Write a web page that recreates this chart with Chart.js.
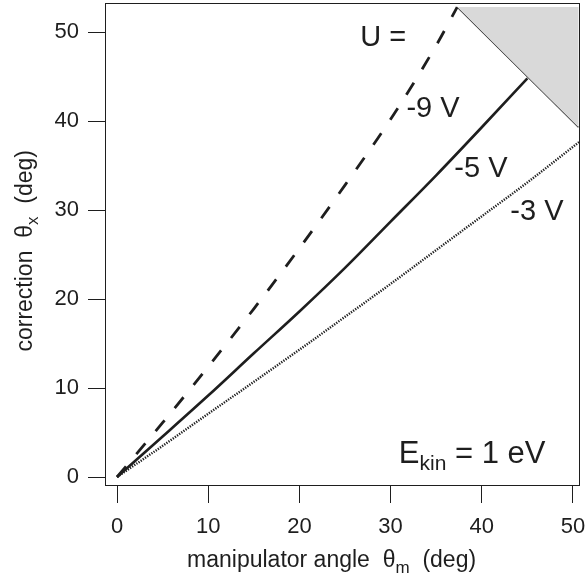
<!DOCTYPE html>
<html>
<head>
<meta charset="utf-8">
<script src="https://cdn.jsdelivr.net/npm/chart.js@4.4.1/dist/chart.umd.min.js"></script>
<style>
  html, body { margin: 0; padding: 0; background: #fff; }
  canvas { display: block; }
</style>
</head>
<body>
<canvas id="chart" width="586" height="580"></canvas>
<script>
// axis ticks
const xTicks = [0, 10, 20, 30, 40, 50];
const yTicks = [0, 10, 20, 30, 40, 50];

// U = -9 V (dashed)
const angle9 = [0, 5, 10, 15, 20, 25, 30, 35, 37.3];
const corr9 = [0, 6.1, 12.4, 18.9, 25.7, 32.8, 40.2, 48.5, 52.8];

// U = -5 V (solid)
const angle5 = [0, 5, 10, 15, 20, 25, 30, 35, 40, 45];
const corr5 = [0, 4.55, 9.15, 13.9, 18.6, 23.5, 28.7, 33.9, 39.3, 44.8];

// U = -3 V (dotted)
const angle3 = [0, 5, 10, 15, 20, 25, 30, 35, 40, 45, 50, 51];
const corr3 = [0, 3.5, 7.1, 10.7, 14.3, 18.0, 21.7, 25.5, 29.3, 33.1, 37.1, 37.9];

// grey forbidden corner
const shadeX = [37.3, 50.6, 50.6, 37.3];
const shadeY = [52.8, 52.8, 39.3, 52.8];
const edgeX = [37.3, 50.6];
const edgeY = [52.8, 39.3];

// curve labels
const labelText = ['U =', '-9 V', '-5 V', '-3 V'];
const labelX = [29.2, 34.65, 39.9, 46.05];
const labelY = [49.3, 41.4, 34.6, 29.8];

const FONT = '"Liberation Sans", Arial, Helvetica, sans-serif';
const INK = '#1e1e1e';

const pts = (xs, ys) => xs.map((v, i) => ({x: v, y: ys[i]}));

function setTicks(values) {
    return scale => { scale.ticks = values.map(v => ({value: v})); };
}

// fixed axis size, no extra label padding
function fitAxis(prop, size) {
    return s => {
        s[prop] = size;
        s.paddingTop = 0; s.paddingBottom = 0;
        s.paddingLeft = 0; s.paddingRight = 0;
    };
}

// text with subscripts
function rich(ctx, parts, x, y, align) {
    const widths = parts.map(p => {
        ctx.font = p.size + 'px ' + FONT;
        return ctx.measureText(p.text).width;
    });
    const total = widths.reduce((a, b) => a + b, 0);
    let cx = align == 'center' ? x - total / 2 : (align == 'right' ? x - total : x);
    ctx.textAlign = 'left';
    ctx.textBaseline = 'alphabetic';
    parts.forEach((p, i) => {
        ctx.font = p.size + 'px ' + FONT;
        ctx.fillText(p.text, cx, y + (p.shift || 0));
        cx += widths[i];
    });
}

const decor = {
    id: 'decor',
    afterDraw(chart) {
        const { ctx, chartArea: a, scales } = chart;
        const sx = scales.x, sy = scales.y;
        ctx.save();
        ctx.strokeStyle = INK;
        ctx.lineWidth = 1;
        ctx.strokeRect(a.left + 0.5, a.top + 0.5, a.right - a.left - 1, a.bottom - a.top - 1);

        ctx.fillStyle = INK;
        ctx.font = '29px ' + FONT;
        ctx.textAlign = 'center';
        ctx.textBaseline = 'middle';
        labelText.forEach((t, i) => {
            ctx.fillText(t, sx.getPixelForValue(labelX[i]), sy.getPixelForValue(labelY[i]));
        });

        rich(ctx, [
            {text: 'E', size: 31},
            {text: 'kin', size: 21, shift: 7},
            {text: ' = 1 eV', size: 31},
        ], sx.getPixelForValue(30.9), sy.getPixelForValue(1.6), 'left');

        // axis titles
        rich(ctx, [
            {text: 'manipulator angle  \u03b8', size: 23},
            {text: 'm', size: 17, shift: 6},
            {text: '  (deg)', size: 23},
        ], a.left + (a.right - a.left) * 0.477, 567, 'center');

        ctx.translate(32, a.top + (a.bottom - a.top) * 0.513);
        ctx.rotate(-Math.PI / 2);
        rich(ctx, [
            {text: 'correction  \u03b8', size: 23},
            {text: 'x', size: 17, shift: 6},
            {text: '  (deg)', size: 23},
        ], 0, 0, 'center');
        ctx.restore();
    }
};

const axisStyle = {
    grid: { drawOnChartArea: false, drawTicks: true, tickLength: 17, color: INK, lineWidth: 1 },
    border: { display: false },
    ticks: { font: { family: FONT, size: 22 }, color: INK, maxRotation: 0, autoSkip: false },
};

new Chart(document.getElementById('chart'), {
    type: 'line',
    data: {
        datasets: [
            {
                data: pts(shadeX, shadeY),
                borderWidth: 0,
                borderColor: 'rgba(0,0,0,0)',
                backgroundColor: '#d9d9d9',
                fill: 'shape',
                pointRadius: 0,
            },
            {
                data: pts(edgeX, edgeY),
                borderColor: INK,
                borderWidth: 1.2,
                pointRadius: 0,
            },
            {
                data: pts(angle9, corr9),
                label: '-9 V',
                borderColor: INK,
                borderWidth: 2.8,
                borderDash: [14, 16],
                pointRadius: 0,
                cubicInterpolationMode: 'monotone',
            },
            {
                data: pts(angle5, corr5),
                label: '-5 V',
                borderColor: INK,
                borderWidth: 2.6,
                pointRadius: 0,
                cubicInterpolationMode: 'monotone',
            },
            {
                data: pts(angle3, corr3),
                label: '-3 V',
                borderColor: INK,
                borderWidth: 2.4,
                borderDash: [1.3, 1.3],
                pointRadius: 0,
                cubicInterpolationMode: 'monotone',
            },
        ]
    },
    options: {
        responsive: false,
        animation: false,
        devicePixelRatio: 1,
        layout: { padding: { top: 3, right: 6, left: 0, bottom: 0 } },
        plugins: { legend: { display: false }, tooltip: { enabled: false } },
        scales: {
            x: {
                type: 'linear',
                min: -1.32,
                max: 50.77,
                afterBuildTicks: setTicks(xTicks),
                afterFit: fitAxis('height', 94),
                ...axisStyle,
                ticks: { ...axisStyle.ticks, padding: 11 },
            },
            y: {
                type: 'linear',
                min: -1.01,
                max: 53.26,
                afterBuildTicks: setTicks(yTicks),
                afterFit: fitAxis('width', 105),
                ...axisStyle,
                ticks: { ...axisStyle.ticks, padding: 9 },
            },
        },
    },
    plugins: [decor],
});
</script>
</body>
</html>
